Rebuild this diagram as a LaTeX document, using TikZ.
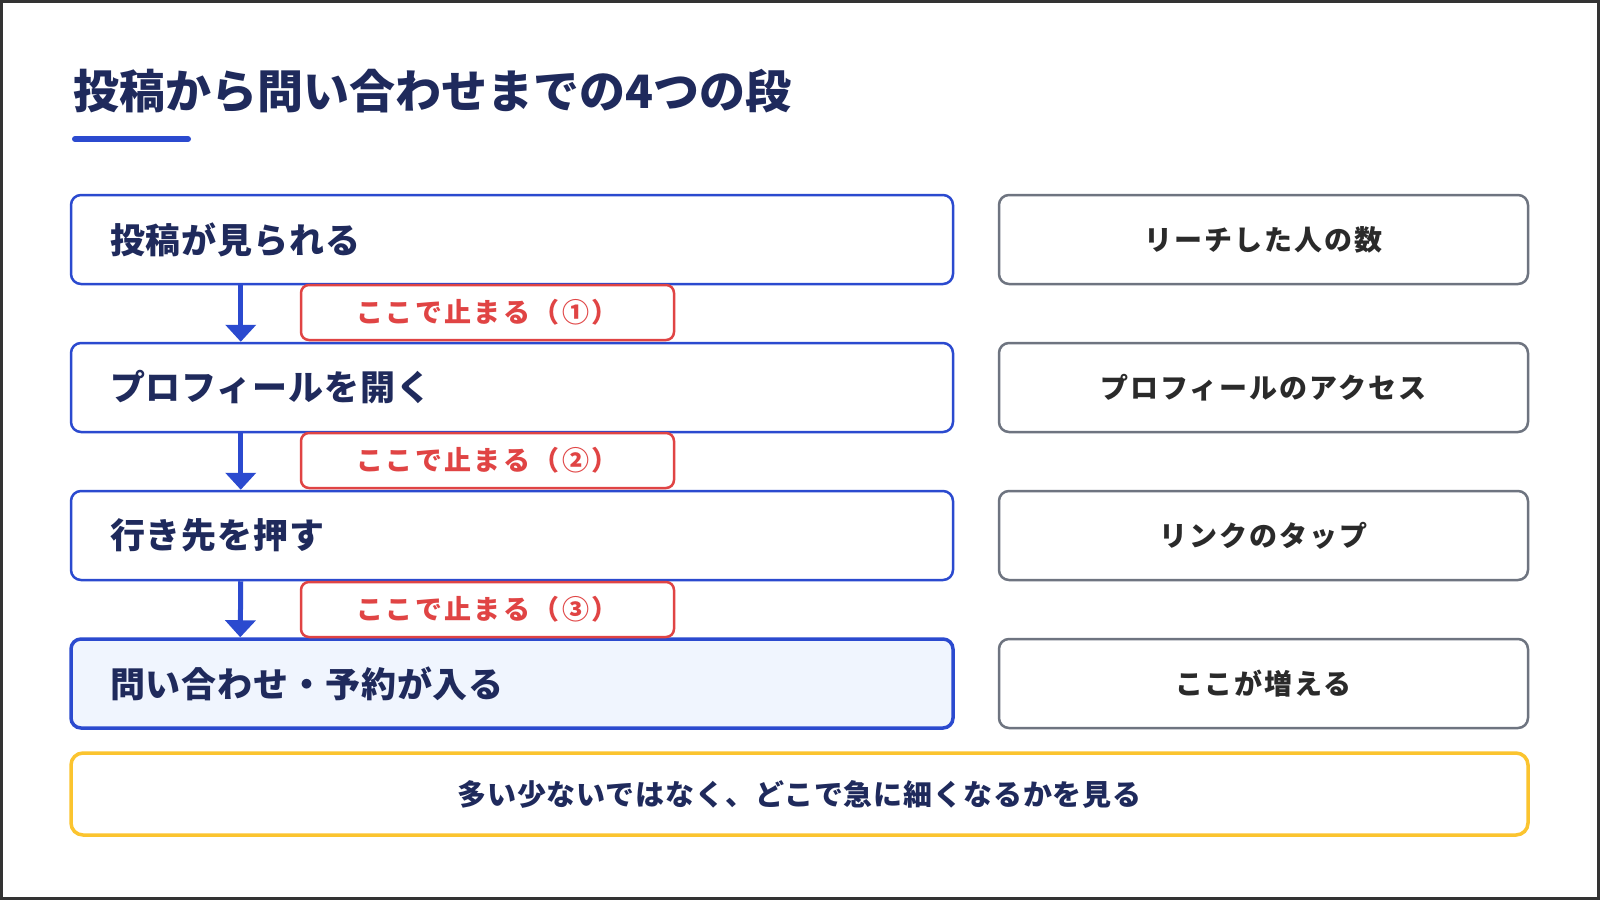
\documentclass[tikz,border=0pt]{standalone}
\usepackage{fontspec}
\setmainfont{Noto Sans CJK JP}
\newfontfamily\fstage{Noto Sans CJK JP}[LetterSpace=2.5]
\newfontfamily\fmetric{Noto Sans CJK JP}[LetterSpace=7]
\newfontfamily\fstop{Noto Sans CJK JP}[LetterSpace=9]
\newfontfamily\fnote{Noto Sans CJK JP}[LetterSpace=3]
\usetikzlibrary{arrows.meta}
\definecolor{navy}{HTML}{1F2A5C}
\definecolor{blueC}{HTML}{2B4ACF}
\definecolor{redC}{HTML}{E04444}
\definecolor{grayC}{HTML}{6E7480}
\definecolor{darkT}{HTML}{2A2A2A}
\definecolor{yellowC}{HTML}{FBC42F}
\definecolor{lightB}{HTML}{F0F5FE}
\definecolor{frameC}{HTML}{333333}
\begin{document}
\begin{tikzpicture}[x=1pt,y=-1pt,
  stage/.style={draw=blueC, line width=2.5pt, rounded corners=10pt, fill=white,
    minimum width=882pt, minimum height=89pt, text width=804pt, inner xsep=39pt,
    inner ysep=0pt, align=left, font=\fstage\bfseries\fontsize{35}{42}\selectfont, text=navy},
  goal/.style={stage, fill=lightB, line width=3.5pt},
  metric/.style={draw=grayC, line width=2.5pt, rounded corners=10pt, fill=white,
    minimum width=529pt, minimum height=89pt, inner sep=0pt,
    font=\fmetric\bfseries\fontsize{28}{34}\selectfont, text=darkT},
  stopbox/.style={draw=redC, fill=white, line width=2.5pt, rounded corners=8pt,
    minimum width=373pt, minimum height=55pt, inner sep=0pt,
    font=\fstop\bfseries\fontsize{27}{32}\selectfont, text=redC},
  notebox/.style={draw=yellowC, line width=3.5pt, rounded corners=12pt, fill=white,
    minimum width=1457pt, minimum height=82pt, inner sep=0pt,
    font=\fnote\bfseries\fontsize{29}{34}\selectfont, text=navy},
  flow/.style={draw=blueC, line width=5pt, -{Triangle[width=30pt,length=17pt]}}
]
\useasboundingbox (0,0) rectangle (1600,900);
\fill[white] (0,0) rectangle (1600,900);
\draw[frameC, line width=3pt] (1.5,1.5) rectangle (1598.5,898.5);

% title
\node[anchor=base west, inner sep=0pt, font=\bfseries\fontsize{46}{55}\selectfont, text=navy]
  (title) at (73,108) {投稿から問い合わせまでの4つの段};
\draw[blueC, line width=6pt, line cap=round] (75,139) -- (188,139);

% stages
\node[stage] (s1) at (512,239.5) {投稿が見られる};
\node[stage] (s2) at (512,387.5) {プロフィールを開く};
\node[stage] (s3) at (512,535.5) {行き先を押す};
\node[goal]  (s4) at (512,683.5) {問い合わせ・予約が入る};

% metrics
\node[metric] (m1) at (1263.5,239.5) {リーチした人の数};
\node[metric] (m2) at (1263.5,387.5) {プロフィールのアクセス};
\node[metric] (m3) at (1263.5,535.5) {リンクのタップ};
\node[metric] (m4) at (1263.5,683.5) {ここが増える};

% arrows
\draw[flow] ([xshift=171pt]s1.south west) -- ([xshift=171pt]s2.north west);
\draw[flow] ([xshift=171pt]s2.south west) -- ([xshift=171pt]s3.north west);
\draw[flow] ([xshift=171pt]s3.south west) -- ([xshift=171pt]s4.north west);

% stop labels
\node[stopbox] (c1) at (487.5,312.5) {ここで止まる（①）};
\node[stopbox] (c2) at (487.5,460.5) {ここで止まる（②）};
\node[stopbox] (c3) at (487.5,609.5) {ここで止まる（③）};

% note
\node[notebox] (note) at (799.5,794) {多い少ないではなく、どこで急に細くなるかを見る};
\end{tikzpicture}
\end{document}
